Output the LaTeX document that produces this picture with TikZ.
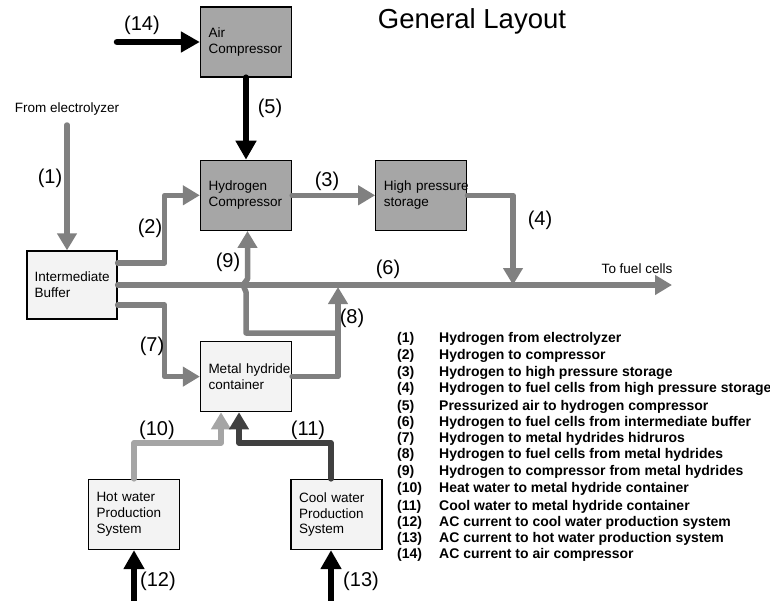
\documentclass[tikz,border=0pt]{standalone}
\usepackage{fontspec}
\setmainfont{Liberation Sans}
\usetikzlibrary{positioning,arrows.meta,calc}
\definecolor{UnitGray}{RGB}{166,166,166}
\definecolor{PaleGray}{RGB}{243,243,243}
\definecolor{FlowGray}{RGB}{128,128,128}
\definecolor{HotGray}{RGB}{165,165,165}
\definecolor{CoolGray}{RGB}{64,64,64}
\hyphenpenalty=10000
\exhyphenpenalty=10000

\begin{document}
\begin{tikzpicture}[x=1pt, y=-1pt,
    unit/.style={draw, line width=1.3pt, minimum width=91pt, minimum height=70pt,
                 text width=75pt, inner xsep=0pt, align=left,
                 font=\fontsize{13.5}{15.8}\selectfont},
    darkunit/.style={unit, fill=UnitGray},
    lightunit/.style={unit, fill=PaleGray},
    flow/.style={line width=5.5pt, draw=FlowGray, line cap=round,
                 line join=round, -{Triangle[length=17pt,width=19pt]}},
    power/.style={line width=6.5pt, black, line cap=round,
                  -{Triangle[length=19pt,width=20pt]}},
    tag/.style={font=\fontsize{20}{22}\selectfont},
    note/.style={font=\fontsize{13.5}{15}\selectfont},
    legend/.style={anchor=west, font=\bfseries\fontsize{14}{16}\selectfont, inner sep=0pt}]
  \useasboundingbox (0,0) rectangle (770,600);

  % units
  \node[darkunit] (airc) at (246,42) {Air\\Compressor};
  \node[darkunit, below=82pt of airc] (h2c) {Hydrogen\\Compressor};
  \node[darkunit, right=83pt of h2c] (hps) {High~pressure\\storage};
  \node[lightunit, minimum width=90pt, minimum height=68pt] (buf) at (72,285) {Intermediate\\Buffer};
  \node[lightunit, below=110pt of h2c] (mh) {Metal~hydride\\container};
  \node[lightunit] (hot) at (134,514.5) {Hot water\\Production\\System};
  \node[lightunit] (cool) at (336.5,514.5) {Cool water\\Production\\System};

  \node[font=\fontsize{27.5}{30}\selectfont] (title) at (472,21) {General Layout};
  \node[note] (src) at (67,109) {From electrolyzer};
  \node[note] (dst) at (637,269) {To fuel cells};

  % free ends and junctions
  \coordinate (in1) at (67,125);
  \coordinate (in12) at (134,603);
  \coordinate (in13) at (331,603);
  \coordinate (in14) at (117,42);
  \coordinate (out6) at (672,285);
  \coordinate (j4) at (513,285);
  \coordinate (j8) at (338,287);
  \coordinate (b9) at (338,333);
  \coordinate (hop) at (243,285);

  % hydrogen lines
  \draw[flow] (in1) -- (in1 |- buf.north);
  \draw[flow] ([yshift=22pt]buf.east) -- ++(47,0) |- (h2c.west);
  \draw[flow] (h2c.east) -- (hps.west);
  \draw[flow] (hps.east) -| (j4);
  \draw[flow] (buf.east) -- (out6);
  \draw[flow] ([yshift=-20pt]buf.east) -- ++(47,0) |- (mh.west);
  \draw[flow] (mh.east) -| (j8);
  \draw[flow] (b9) -| ([yshift=-7pt]hop -| h2c.south) -- (hop)
    -- ([shift={(1.5pt,6pt)}]hop -| h2c.south) -- ([xshift=1.5pt]h2c.south);
  % water lines
  \draw[flow, draw=HotGray] (hot.north) -- ++(0,-36) -| ([xshift=-25pt]mh.south);
  \draw[flow, draw=CoolGray] ([xshift=-5.5pt]cool.north) -- ++(0,-36) -| ([xshift=-7pt]mh.south);
  % power and air
  \draw[power] (in14) -- (airc.west);
  \draw[power] (airc.south) -- (h2c.north);
  \draw[power] (in12) -- (hot.south);
  \draw[power] (in13) -- ([xshift=-5.5pt]cool.south);

  % line numbers
  \node[tag] (l1) at (50,178) {(1)};
  \node[tag] (l2) at (150,228) {(2)};
  \node[tag] (l3) at (327,181) {(3)};
  \node[tag] (l4) at (540,220) {(4)};
  \node[tag] (l5) at (270,108) {(5)};
  \node[tag] (l6) at (388,269) {(6)};
  \node[tag] (l7) at (152,346) {(7)};
  \node[tag] (l8) at (352,318) {(8)};
  \node[tag] (l9) at (228,262) {(9)};
  \node[tag] (l10) at (157,430) {(10)};
  \node[tag] (l11) at (308,430) {(11)};
  \node[tag] (l12) at (158,581) {(12)};
  \node[tag] (l13) at (361,581) {(13)};
  \node[tag] (l14) at (142,25) {(14)};

  % legend
  \foreach \y/\txt [count=\i] in {
      339/Hydrogen from electrolyzer,
      356/Hydrogen to compressor,
      373/Hydrogen to high pressure storage,
      389/Hydrogen to fuel cells from high pressure storage,
      407/Pressurized air to hydrogen compressor,
      423/Hydrogen to fuel cells from intermediate buffer,
      439/Hydrogen to metal hydrides hidruros,
      455/Hydrogen to fuel cells from metal hydrides,
      472/Hydrogen to compressor from metal hydrides,
      489/Heat water to metal hydride container,
      507/Cool water to metal hydride container,
      523/AC current to cool water production system,
      539/AC current to hot water production system,
      555/AC current to air compressor} {
    \node[legend] (num\i) at (397,\y) {(\i)};
    \node[legend] (txt\i) at (439,\y) {\txt};
  }
\end{tikzpicture}
\end{document}
